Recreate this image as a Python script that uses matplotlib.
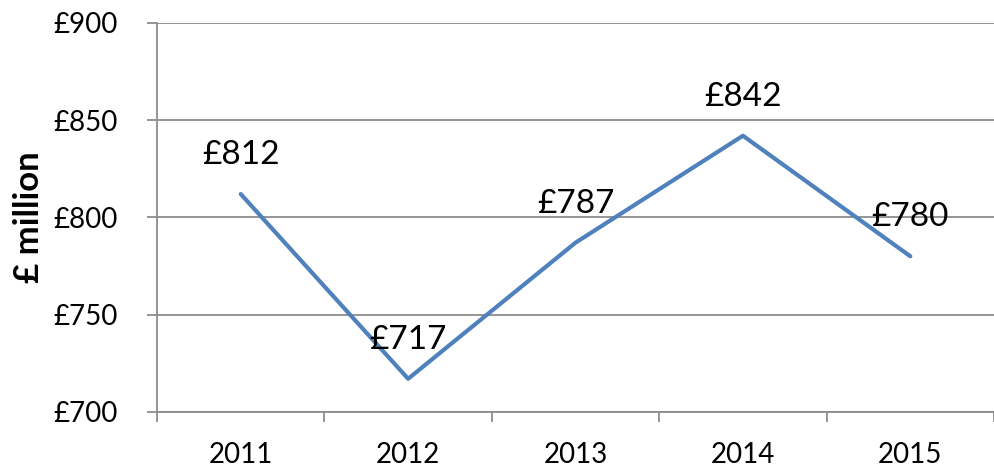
import matplotlib.pyplot as plt

years = ["2011", "2012", "2013", "2014", "2015"]
values = [812, 717, 787, 842, 780]
labels = ["£812", "£717", "£787", "£842", "£780"]
yticks = [700, 750, 800, 850, 900]

plt.rcParams['font.family'] = ['Lato', 'DejaVu Sans']

fig = plt.figure(figsize=(9.94, 4.68), dpi=100)
ax = fig.add_axes([0.158, 0.12, 0.842, 0.831])

x = list(range(len(years)))
ax.plot(x, values, color='#4F81BD', linewidth=3, solid_capstyle='round', zorder=3)

for xi, v, lab in zip(x, values, labels):
    ax.annotate(lab, (xi, v), xytext=(0, 28), textcoords='offset points',
                ha='center', va='center', fontsize=24, color='#000000', zorder=4)

ax.set_xlim(-0.5, len(years) - 0.5)
ax.set_ylim(700, 900)
ax.set_yticks(yticks)
ax.set_yticklabels([f"£{t}" for t in yticks], fontsize=20)
ax.yaxis.grid(True, color='#8C8C8C', linewidth=1.3)
ax.set_axisbelow(True)

# category ticks sit between the years, labels at the centres
ax.set_xticks([i - 0.5 for i in range(len(years) + 1)])
ax.set_xticklabels([])
ax.set_xticks(x, minor=True)
ax.set_xticklabels(years, minor=True, fontsize=20)
ax.tick_params(axis='x', which='major', length=7, width=1.3, color='#8C8C8C', direction='out')
ax.tick_params(axis='x', which='minor', length=0, pad=22)
ax.tick_params(axis='y', length=7, width=1.3, color='#8C8C8C', pad=21)

for side in ['top', 'right']:
    ax.spines[side].set_visible(False)
for side in ['left', 'bottom']:
    ax.spines[side].set_color('#8C8C8C')
    ax.spines[side].set_linewidth(1.3)

ax.set_ylabel("£ million", fontsize=25, fontweight='bold', labelpad=6)

fig.savefig("out.png", dpi=100)
